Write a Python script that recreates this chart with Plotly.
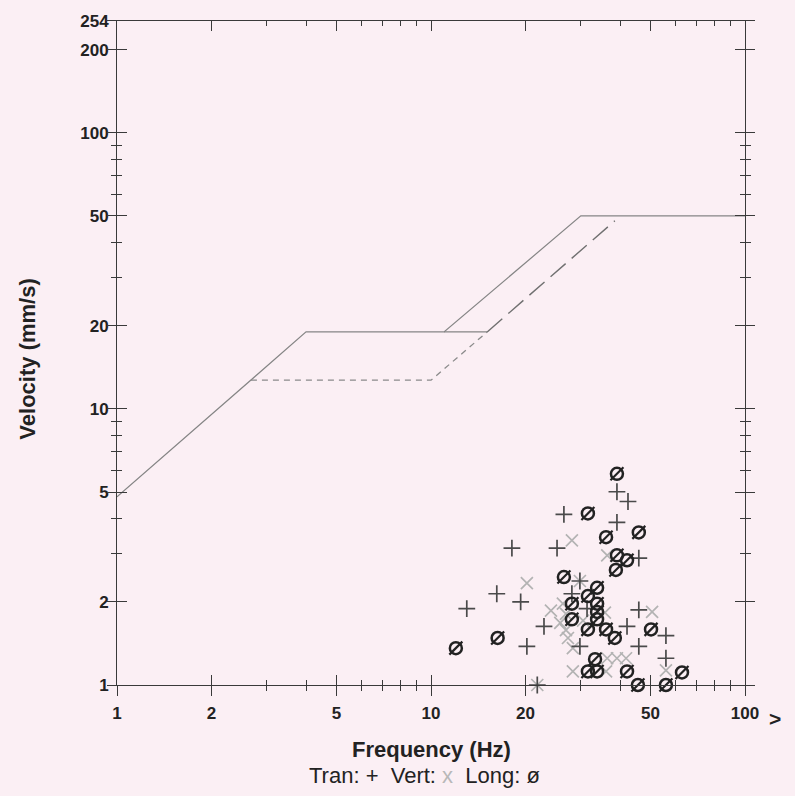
import plotly.graph_objects as go

# ---- data ----
tran_f = [39.1, 42.4, 26.5, 39.1, 18.1, 25.2, 45.9, 29.8, 16.2, 28.1, 19.3, 13.0, 31.4, 45.9, 22.9, 42.1, 56.0, 20.2, 29.8, 45.9, 56.0, 21.8]
tran_v = [5.01, 4.62, 4.15, 3.88, 3.13, 3.13, 2.88, 2.38, 2.14, 2.14, 2.00, 1.89, 1.89, 1.87, 1.63, 1.63, 1.51, 1.38, 1.38, 1.38, 1.25, 1.0]

vert_f = [28.1, 36.4, 20.2, 29.8, 24.1, 26.3, 26.9, 25.8, 26.9, 27.3, 28.3, 28.3, 35.8, 36.4, 39.1, 41.8, 36.1, 50.6, 56.0, 21.8, 30.5]
vert_v = [3.34, 2.95, 2.34, 2.38, 1.86, 1.97, 1.81, 1.68, 1.58, 1.48, 1.36, 1.12, 1.83, 1.25, 1.25, 1.25, 1.12, 1.84, 1.13, 1.0, 1.71]

long_f = [39.1, 31.6, 36.1, 45.9, 39.1, 42.1, 38.8, 26.5, 33.8, 31.6, 33.8, 28.1, 33.8, 28.1, 33.8, 31.6, 36.1, 38.5, 50.2, 16.3, 12.0, 33.3, 31.6, 33.8, 42.1, 63.0, 45.6, 56.0]
long_v = [5.82, 4.18, 3.43, 3.57, 2.95, 2.83, 2.61, 2.46, 2.25, 2.10, 1.97, 1.97, 1.84, 1.73, 1.73, 1.59, 1.59, 1.48, 1.59, 1.48, 1.36, 1.24, 1.12, 1.12, 1.12, 1.11, 1.0, 1.0]

# criterion curves
crit_a_f = [1, 4, 11, 30, 100]
crit_a_v = [4.8, 19, 19, 50, 50]
drywall_f = [11, 15.1]
drywall_v = [19, 19]
plaster_f = [2.67, 10, 15.1]
plaster_v = [12.7, 12.7, 19]
displ_f = [15.1, 38.5]
displ_v = [19, 48]

x_major = [1, 2, 5, 10, 20, 50, 100]
x_minor = [3, 4, 6, 7, 8, 9, 30, 40, 60, 70, 80, 90]
y_major = [1, 2, 5, 10, 20, 50, 100, 200, 254]
y_minor = [3, 4, 6, 7, 8, 9, 30, 40, 60, 70, 80, 90]

BG = "#fbeff4"
AX = "#3a3a3a"
FONT = "Liberation Sans, Arial, sans-serif"

fig = go.Figure()

fig.add_trace(go.Scatter(x=crit_a_f, y=crit_a_v, mode="lines",
                         line=dict(color="#858585", width=1.2), hoverinfo="skip"))
fig.add_trace(go.Scatter(x=drywall_f, y=drywall_v, mode="lines",
                         line=dict(color="#858585", width=1.2), hoverinfo="skip"))
fig.add_trace(go.Scatter(x=plaster_f, y=plaster_v, mode="lines",
                         line=dict(color="#8a8a8a", width=1.3, dash="6px,5px"), hoverinfo="skip"))
fig.add_trace(go.Scatter(x=displ_f, y=displ_v, mode="lines",
                         line=dict(color="#707070", width=1.4, dash="20px,8px"), hoverinfo="skip"))

fig.add_trace(go.Scatter(x=vert_f, y=vert_v, mode="markers", cliponaxis=False,
                         marker=dict(symbol="x-thin-open", size=12, color="#b3b3b3",
                                     line=dict(color="#b3b3b3", width=1.7))))
fig.add_trace(go.Scatter(x=tran_f, y=tran_v, mode="markers", cliponaxis=False,
                         marker=dict(symbol="cross-thin-open", size=12, color="#4a4a4a",
                                     line=dict(color="#4a4a4a", width=1.7))))
fig.add_trace(go.Scatter(x=long_f, y=long_v, mode="markers", cliponaxis=False,
                         marker=dict(symbol="circle-open", size=12, color="#222",
                                     line=dict(color="#222", width=2.5))))
fig.add_trace(go.Scatter(x=long_f, y=long_v, mode="markers", cliponaxis=False,
                         marker=dict(symbol="line-ne-open", size=13, color="#222",
                                     line=dict(color="#222", width=2.2))))

# overlay axes to make ticks cross the axis lines
fig.add_trace(go.Scatter(x=[], y=[], xaxis="x2", yaxis="y2", showlegend=False))
fig.add_trace(go.Scatter(x=[], y=[], xaxis="x2", yaxis="y3", showlegend=False))

common_x = dict(type="log", range=[0, 2], showgrid=False, zeroline=False)
common_y = dict(type="log", range=[0, 2.4048], showgrid=False, zeroline=False)

fig.update_layout(
    width=795, height=796,
    margin=dict(l=117, r=50, t=15, b=111, pad=0),
    paper_bgcolor=BG, plot_bgcolor=BG,
    showlegend=False,
    font=dict(family=FONT, color="#222"),
    xaxis=dict(**common_x, showline=True, linecolor=AX, linewidth=1, mirror=True,
               tickvals=x_major, ticktext=[str(v) for v in x_major],
               ticks="outside", ticklen=10, tickcolor=AX, tickwidth=1,
               tickfont=dict(family=FONT, size=17, color="#222", weight="bold"),
               ticklabelstandoff=3,
               minor=dict(tickvals=x_minor, ticks="outside", ticklen=5, tickcolor=AX)),
    yaxis=dict(**common_y, showline=True, linecolor=AX, linewidth=1, mirror=True,
               tickvals=y_major, ticktext=[str(v) for v in y_major],
               ticks="outside", ticklen=4, tickcolor=AX, tickwidth=1,
               tickfont=dict(family=FONT, size=17, color="#222", weight="bold"),
               ticklabelstandoff=0,
               minor=dict(tickvals=y_minor, ticks="outside", ticklen=4, tickcolor=AX)),
    xaxis2=dict(**common_x, overlaying="x", anchor="y", side="bottom", showline=False,
                mirror="ticks", tickvals=x_major, showticklabels=False,
                ticks="inside", ticklen=10, tickcolor=AX,
                minor=dict(tickvals=x_minor, ticks="inside", ticklen=5, tickcolor=AX)),
    yaxis2=dict(**common_y, overlaying="y", anchor="x", side="left", showline=False,
                mirror="ticks", tickvals=y_major, showticklabels=False,
                ticks="inside", ticklen=10, tickcolor=AX,
                minor=dict(tickvals=y_minor, ticks="inside", ticklen=5, tickcolor=AX)),
    yaxis3=dict(**common_y, overlaying="y", anchor="x", side="left", showline=False,
                mirror="ticks", tickvals=y_major, showticklabels=False,
                ticks="outside", ticklen=9, tickcolor=AX,
                minor=dict(tickvals=y_minor, ticks="outside", ticklen=5, tickcolor=AX)),
    annotations=[
        dict(text="<b>Velocity (mm/s)</b>", xref="paper", yref="paper", x=0, y=0.49,
             xanchor="center", yanchor="middle", xshift=-89, textangle=-90, showarrow=False,
             font=dict(family=FONT, size=22, color="#222")),
        dict(text="<b>Frequency (Hz)</b>", xref="paper", yref="paper", x=0.501, y=0,
             xanchor="center", yanchor="middle", yshift=-64, showarrow=False,
             font=dict(family=FONT, size=22, color="#222")),
        dict(text="Tran: +  Vert: <span style='color:#b8b8b8'>x</span>  Long: ø",
             xref="paper", yref="paper", x=0.49, y=0,
             xanchor="center", yanchor="middle", yshift=-90, showarrow=False,
             font=dict(family=FONT, size=22, color="#222")),
        dict(text="<b>&gt;</b>", xref="paper", yref="paper", x=1.048, y=0,
             xanchor="center", yanchor="middle", yshift=-33, showarrow=False,
             font=dict(family=FONT, size=21, color="#222")),
    ],
)

fig.write_html("out.html")
